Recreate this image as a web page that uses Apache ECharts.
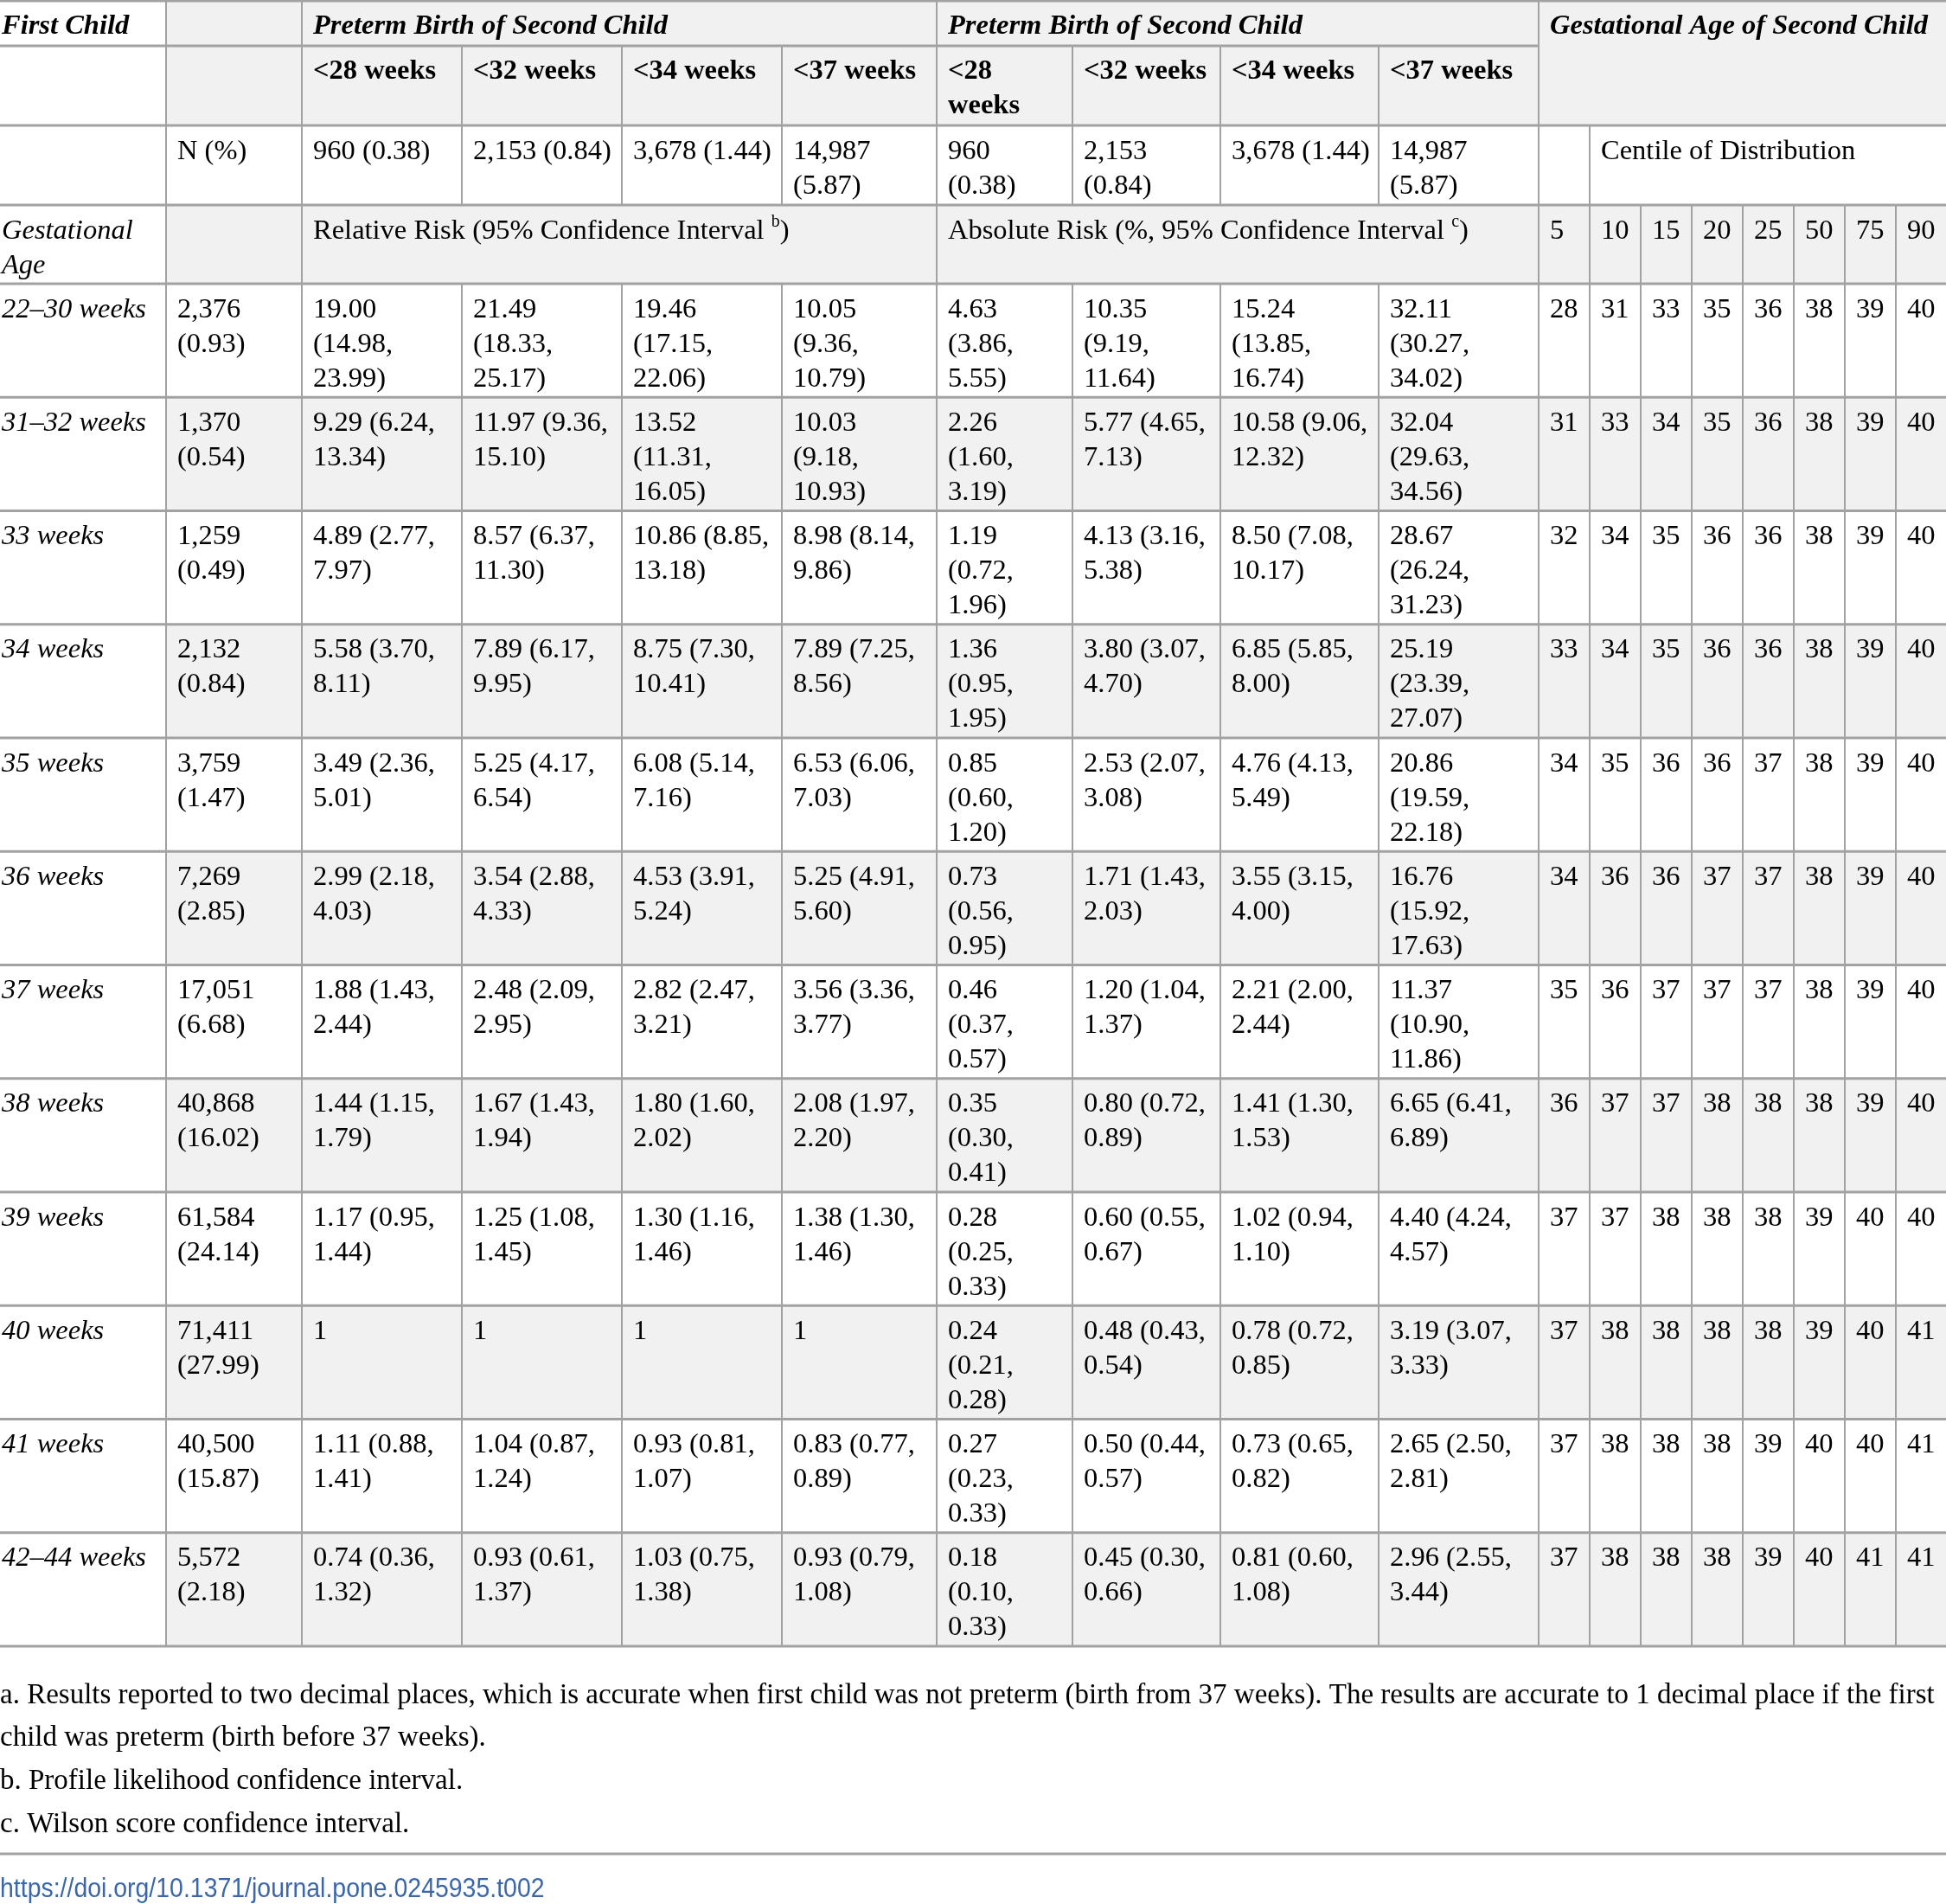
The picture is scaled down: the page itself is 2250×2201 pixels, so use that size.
<!DOCTYPE html>
<html><head><meta charset="utf-8">
<script src="https://cdn.jsdelivr.net/npm/echarts@6/dist/echarts.min.js"></script>
<style>html,body{margin:0;padding:0;background:#fff}#c{width:2250px;height:2201px}</style>
</head><body><div id="c"></div>
<script>
// ---------------- DATA ----------------
const gaLabels = ['22–30 weeks','31–32 weeks','33 weeks','34 weeks','35 weeks','36 weeks','37 weeks','38 weeks','39 weeks','40 weeks','41 weeks','42–44 weeks'];
const nFirst = ['2,376\n(0.93)','1,370\n(0.54)','1,259\n(0.49)','2,132\n(0.84)','3,759\n(1.47)','7,269\n(2.85)','17,051\n(6.68)','40,868\n(16.02)','61,584\n(24.14)','71,411\n(27.99)','40,500\n(15.87)','5,572\n(2.18)'];
const rr28 = ['19.00\n(14.98,\n23.99)','9.29 (6.24,\n13.34)','4.89 (2.77,\n7.97)','5.58 (3.70,\n8.11)','3.49 (2.36,\n5.01)','2.99 (2.18,\n4.03)','1.88 (1.43,\n2.44)','1.44 (1.15,\n1.79)','1.17 (0.95,\n1.44)','1','1.11 (0.88,\n1.41)','0.74 (0.36,\n1.32)'];
const rr32 = ['21.49\n(18.33,\n25.17)','11.97 (9.36,\n15.10)','8.57 (6.37,\n11.30)','7.89 (6.17,\n9.95)','5.25 (4.17,\n6.54)','3.54 (2.88,\n4.33)','2.48 (2.09,\n2.95)','1.67 (1.43,\n1.94)','1.25 (1.08,\n1.45)','1','1.04 (0.87,\n1.24)','0.93 (0.61,\n1.37)'];
const rr34 = ['19.46\n(17.15,\n22.06)','13.52\n(11.31,\n16.05)','10.86 (8.85,\n13.18)','8.75 (7.30,\n10.41)','6.08 (5.14,\n7.16)','4.53 (3.91,\n5.24)','2.82 (2.47,\n3.21)','1.80 (1.60,\n2.02)','1.30 (1.16,\n1.46)','1','0.93 (0.81,\n1.07)','1.03 (0.75,\n1.38)'];
const rr37 = ['10.05\n(9.36,\n10.79)','10.03\n(9.18,\n10.93)','8.98 (8.14,\n9.86)','7.89 (7.25,\n8.56)','6.53 (6.06,\n7.03)','5.25 (4.91,\n5.60)','3.56 (3.36,\n3.77)','2.08 (1.97,\n2.20)','1.38 (1.30,\n1.46)','1','0.83 (0.77,\n0.89)','0.93 (0.79,\n1.08)'];
const ar28 = ['4.63\n(3.86,\n5.55)','2.26\n(1.60,\n3.19)','1.19\n(0.72,\n1.96)','1.36\n(0.95,\n1.95)','0.85\n(0.60,\n1.20)','0.73\n(0.56,\n0.95)','0.46\n(0.37,\n0.57)','0.35\n(0.30,\n0.41)','0.28\n(0.25,\n0.33)','0.24\n(0.21,\n0.28)','0.27\n(0.23,\n0.33)','0.18\n(0.10,\n0.33)'];
const ar32 = ['10.35\n(9.19,\n11.64)','5.77 (4.65,\n7.13)','4.13 (3.16,\n5.38)','3.80 (3.07,\n4.70)','2.53 (2.07,\n3.08)','1.71 (1.43,\n2.03)','1.20 (1.04,\n1.37)','0.80 (0.72,\n0.89)','0.60 (0.55,\n0.67)','0.48 (0.43,\n0.54)','0.50 (0.44,\n0.57)','0.45 (0.30,\n0.66)'];
const ar34 = ['15.24\n(13.85,\n16.74)','10.58 (9.06,\n12.32)','8.50 (7.08,\n10.17)','6.85 (5.85,\n8.00)','4.76 (4.13,\n5.49)','3.55 (3.15,\n4.00)','2.21 (2.00,\n2.44)','1.41 (1.30,\n1.53)','1.02 (0.94,\n1.10)','0.78 (0.72,\n0.85)','0.73 (0.65,\n0.82)','0.81 (0.60,\n1.08)'];
const ar37 = ['32.11\n(30.27,\n34.02)','32.04\n(29.63,\n34.56)','28.67\n(26.24,\n31.23)','25.19\n(23.39,\n27.07)','20.86\n(19.59,\n22.18)','16.76\n(15.92,\n17.63)','11.37\n(10.90,\n11.86)','6.65 (6.41,\n6.89)','4.40 (4.24,\n4.57)','3.19 (3.07,\n3.33)','2.65 (2.50,\n2.81)','2.96 (2.55,\n3.44)'];
const centileHeaders = ['5','10','15','20','25','50','75','90'];
const centiles = [
  [28,31,33,35,36,38,39,40],
  [31,33,34,35,36,38,39,40],
  [32,34,35,36,36,38,39,40],
  [33,34,35,36,36,38,39,40],
  [34,35,36,36,37,38,39,40],
  [34,36,36,37,37,38,39,40],
  [35,36,37,37,37,38,39,40],
  [36,37,37,38,38,38,39,40],
  [37,37,38,38,38,39,40,40],
  [37,38,38,38,38,39,40,41],
  [37,38,38,38,39,40,40,41],
  [37,38,38,38,39,40,41,41]
];
const outcomeHeadersRR = ['<28 weeks','<32 weeks','<34 weeks','<37 weeks'];
const outcomeHeadersAR = ['<28\nweeks','<32 weeks','<34 weeks','<37 weeks'];
const outcomeNRR = ['960 (0.38)','2,153 (0.84)','3,678 (1.44)','14,987\n(5.87)'];
const outcomeNAR = ['960\n(0.38)','2,153\n(0.84)','3,678 (1.44)','14,987\n(5.87)'];
const headerTexts = ['First Child','Preterm Birth of Second Child','Gestational Age of Second Child','N (%)','Centile of Distribution','Gestational\nAge','Relative Risk (95% Confidence Interval ^b)','Absolute Risk (%, 95% Confidence Interval ^c)'];
const footnotes = [
  'a. Results reported to two decimal places, which is accurate when first child was not preterm (birth from 37 weeks). The results are accurate to 1 decimal place if the first',
  'child was preterm (birth before 37 weeks).',
  'b. Profile likelihood confidence interval.',
  'c. Wilson score confidence interval.'
];
const doiText = 'https://doi.org/10.1371/journal.pone.0245935.t002';

// ---------------- LAYOUT ----------------
const COL_EDGES = [0,192,349,534,719,904,1083,1240,1411,1594,1779,1838,1897,1956,2015,2074,2133,2192,2250];
const ROW_EDGES = [1,53,145,237,328,459.25,590.5,721.75,853,984.25,1115.5,1246.75,1378,1509.25,1640.5,1771.75,1903];
const LAST_COL = COL_EDGES.length - 2;
const SERIF = '"Liberation Serif", "Times New Roman", serif';
const FONT_SIZE = 32.5, LINE_H = 40, TEXT_TOP = 10, PAD = 13, PAD0 = 2;
const GRAY = '#f1f1f1', LINE = '#a2a2a2', INK = '#000000';

// ---------------- CELLS ----------------
const cells = [];
function cell(r0, r1, c0, c1, text, kind) { cells.push({ r0, r1, c0, c1, text, kind }); }
cell(0,0,0,0,headerTexts[0],'bi');
cell(0,0,1,1,'','n');
cell(0,0,2,5,headerTexts[1],'bi');
cell(0,0,6,9,headerTexts[1],'bi');
cell(0,1,10,17,headerTexts[2],'bi');
cell(1,1,0,0,'','n'); cell(1,1,1,1,'','n');
outcomeHeadersRR.forEach((t,i) => cell(1,1,2+i,2+i,t,'b'));
outcomeHeadersAR.forEach((t,i) => cell(1,1,6+i,6+i,t,'b'));
cell(2,2,0,0,'','n'); cell(2,2,1,1,headerTexts[3],'n');
outcomeNRR.forEach((t,i) => cell(2,2,2+i,2+i,t,'n'));
outcomeNAR.forEach((t,i) => cell(2,2,6+i,6+i,t,'n'));
cell(2,2,10,10,'','n'); cell(2,2,11,17,headerTexts[4],'n');
cell(3,3,0,0,headerTexts[5],'i'); cell(3,3,1,1,'','n');
cell(3,3,2,5,headerTexts[6],'n');
cell(3,3,6,9,headerTexts[7],'n');
centileHeaders.forEach((t,i) => cell(3,3,10+i,10+i,t,'n'));
const riskCols = [rr28, rr32, rr34, rr37, ar28, ar32, ar34, ar37];
gaLabels.forEach((g,k) => {
  const r = 4 + k;
  cell(r,r,0,0,g,'i');
  cell(r,r,1,1,nFirst[k],'n');
  riskCols.forEach((arr,j) => cell(r,r,2+j,2+j,arr[k],'n'));
  centiles[k].forEach((v,j) => cell(r,r,10+j,10+j,String(v),'n'));
});

function bgFor(c) {
  if (c.c0 === 0) return '#ffffff';
  const r = c.r0;
  if (r <= 1 || r === 3) return GRAY;
  if (r === 2) return '#ffffff';
  return ((r - 4) % 2 === 1) ? GRAY : '#ffffff';
}

function richify(t) {
  const m = t.match(/^(.*)\^(\w)(.*)$/);
  if (!m) return null;
  return '{n|' + m[1] + '}{s|' + m[2] + '}{n|' + m[3] + '}';
}

function renderItem(params, api) {
  const c = cells[params.dataIndex];
  const p0 = api.coord([api.value(0), api.value(2)]);
  const p1 = api.coord([api.value(1), api.value(3)]);
  const x0 = p0[0], y0 = p0[1], x1 = p1[0], y1 = p1[1];
  const children = [{
    type: 'rect', z2: 0,
    shape: { x: x0, y: y0, width: x1 - x0, height: y1 - y0 },
    style: { fill: bgFor(c) }
  }];
  if (c.text) {
    const weight = (c.kind === 'b' || c.kind === 'bi') ? 'bold' : 'normal';
    const fstyle = (c.kind === 'i' || c.kind === 'bi') ? 'italic' : 'normal';
    const rich = richify(c.text);
    const style = {
      text: rich || c.text,
      fill: INK, fontFamily: SERIF, fontSize: FONT_SIZE,
      fontWeight: weight, fontStyle: fstyle,
      lineHeight: LINE_H, align: 'left', verticalAlign: 'top'
    };
    if (rich) {
      style.rich = {
        n: { fontFamily: SERIF, fontSize: FONT_SIZE, lineHeight: LINE_H, fill: INK },
        s: { fontFamily: SERIF, fontSize: 20, lineHeight: 14, verticalAlign: 'top', fill: INK }
      };
    }
    children.push({
      type: 'text', z2: 5,
      x: x0 + (c.c0 === 0 ? PAD0 : PAD), y: y0 + TEXT_TOP,
      style
    });
  }
  children.push({ type: 'line', z2: 10, shape: { x1: x0, y1: y1, x2: x1, y2: y1 }, style: { stroke: LINE, lineWidth: 3 } });
  if (c.r0 === 0) children.push({ type: 'line', z2: 10, shape: { x1: x0, y1: y0, x2: x1, y2: y0 }, style: { stroke: LINE, lineWidth: 3 } });
  if (c.c1 < LAST_COL) children.push({ type: 'line', z2: 10, shape: { x1: x1, y1: y0, x2: x1, y2: y1 }, style: { stroke: LINE, lineWidth: 2 } });
  return { type: 'group', children };
}

const chart = echarts.init(document.getElementById('c'), null, { renderer: 'canvas' });
chart.setOption({
  backgroundColor: '#ffffff',
  animation: false,
  grid: { left: 0, right: 0, top: 0, bottom: 0 },
  xAxis: { type: 'value', min: 0, max: 2250, show: false },
  yAxis: { type: 'value', min: 0, max: 2201, inverse: true, show: false },
  series: [{
    type: 'custom', silent: true, clip: false,
    encode: { x: [0, 1], y: [2, 3] },
    renderItem,
    data: cells.map(c => [COL_EDGES[c.c0], COL_EDGES[c.c1 + 1], ROW_EDGES[c.r0], ROW_EDGES[c.r1 + 1]])
  }],
  graphic: [
    { type: 'text', x: 0, y: 1935, silent: true,
      style: { text: footnotes.join('\n'), fontFamily: SERIF, fontSize: 33, lineHeight: 49.7, fill: INK, verticalAlign: 'top' } },
    { type: 'line', silent: true, shape: { x1: 0, y1: 2143, x2: 2250, y2: 2143 }, style: { stroke: LINE, lineWidth: 3 } },
    { type: 'text', x: 0, y: 2168, scaleX: 0.889, silent: true,
      style: { text: doiText, fontFamily: '"Liberation Sans", Arial, sans-serif', fontSize: 32, fill: '#3a66ac', verticalAlign: 'top' } }
  ]
});
</script></body></html>
